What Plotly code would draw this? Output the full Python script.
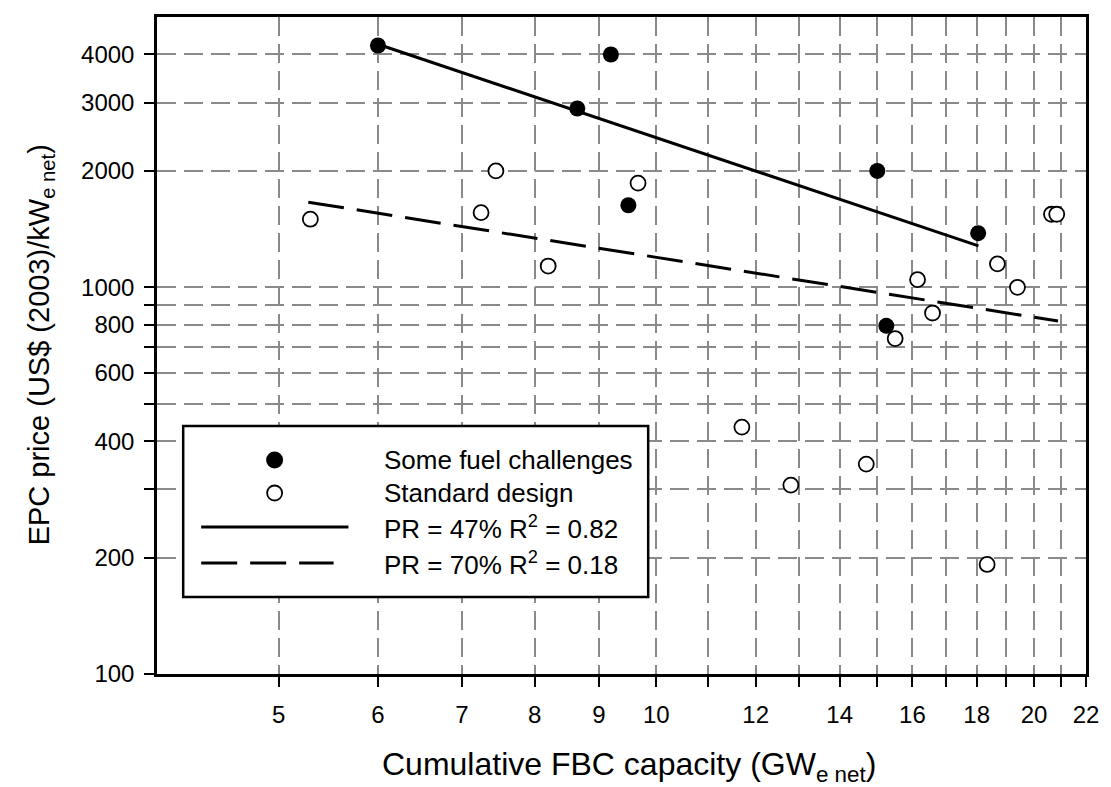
import plotly.graph_objects as go

# ---- data ----
fuel_x = [6.0, 8.65, 9.2, 9.5, 15.0, 18.05, 15.25]
fuel_y = [4220, 2900, 4000, 1630, 2000, 1380, 795]

std_x = [5.3, 7.25, 7.45, 8.2, 9.67, 11.7, 12.8, 14.7, 15.5, 16.15, 16.6,
         18.35, 18.7, 19.4, 20.65, 20.85]
std_y = [1500, 1560, 2000, 1135, 1860, 435, 308, 349, 737, 1047, 858,
         192, 1150, 1000, 1545, 1545]

# experience-curve fits (power law = straight line in log-log)
fit47_x = [6.0, 18.06]
fit47_y = [4250, 1280]
fit70_x = [5.28, 20.9]
fit70_y = [1660, 818]

x_major = [5, 6, 7, 8, 9, 10, 12, 14, 16, 18, 20, 22]
x_minor = [11, 13, 15, 17, 19, 21]
y_major = [100, 200, 400, 600, 800, 1000, 2000, 3000, 4000]
y_minor = [300, 500, 700, 900]

legend_names = ["Some fuel challenges", "Standard design",
                "PR = 47% R<sup>2</sup> = 0.82", "PR = 70% R<sup>2</sup> = 0.18"]

# ---- figure geometry (pixels) ----
W, H = 1111, 787
L, R, T, B = 157, 14, 17, 113
PW, PH = W - L - R, H - T - B
FONT = "Liberation Sans, Arial, sans-serif"
DASH = "36px,13px"
GRID_DASH = "19px,8px"
GRID_COLOR = "#8a8a8a"


def px(xp):
    return (xp - L) / PW


def py(yp):
    return (H - B - yp) / PH


fig = go.Figure()

fig.add_trace(go.Scatter(x=fit47_x, y=fit47_y, mode="lines",
                         line=dict(color="black", width=3), showlegend=False))
fig.add_trace(go.Scatter(x=fit70_x, y=fit70_y, mode="lines",
                         line=dict(color="black", width=3, dash=DASH),
                         showlegend=False))
fig.add_trace(go.Scatter(x=fuel_x, y=fuel_y, mode="markers",
                         marker=dict(color="black", size=16, line=dict(width=0)),
                         showlegend=False))
fig.add_trace(go.Scatter(x=std_x, y=std_y, mode="markers",
                         marker=dict(color="white", size=15,
                                     line=dict(color="black", width=1.8)),
                         showlegend=False))

axis_common = dict(
    showline=True, linecolor="black", linewidth=2.5, mirror=True,
    ticks="outside", ticklen=10, tickwidth=2, tickcolor="black",
    showgrid=True, gridcolor=GRID_COLOR, gridwidth=2, griddash=GRID_DASH,
    zeroline=False, tickfont=dict(family=FONT, size=24, color="black"),
    tickmode="array",
)


def minor_ticks(vals):
    return dict(tickmode="array", tickvals=vals, ticks="outside", ticklen=10,
                tickwidth=2, tickcolor="black", showgrid=True,
                gridcolor=GRID_COLOR, gridwidth=2, griddash=GRID_DASH)


fig.update_xaxes(type="log", range=[0.60206, 1.342423],
                 tickvals=x_major, ticktext=[str(v) for v in x_major],
                 ticklabelstandoff=7, minor=minor_ticks(x_minor), **axis_common)
fig.update_yaxes(type="log", range=[2, 3.69897],
                 tickvals=y_major, ticktext=[str(v) for v in y_major],
                 ticklabelstandoff=5, minor=minor_ticks(y_minor), **axis_common)

# ---- legend box drawn by hand ----
shapes = [
    dict(type="rect", xref="paper", yref="paper",
         x0=px(183.5), x1=px(654), y0=py(597), y1=py(426),
         line=dict(color="black", width=2.5), fillcolor="white", layer="above"),
    dict(type="circle", xref="paper", yref="paper", xsizemode="pixel",
         ysizemode="pixel", xanchor=px(276), yanchor=py(460),
         x0=-8.5, x1=8.5, y0=-8.5, y1=8.5,
         fillcolor="black", line=dict(color="black", width=0), layer="above"),
    dict(type="circle", xref="paper", yref="paper", xsizemode="pixel",
         ysizemode="pixel", xanchor=px(276), yanchor=py(493),
         x0=-7.5, x1=7.5, y0=-7.5, y1=7.5,
         fillcolor="white", line=dict(color="black", width=1.8), layer="above"),
    dict(type="line", xref="paper", yref="paper",
         x0=px(201.7), x1=px(350.7), y0=py(527), y1=py(527),
         line=dict(color="black", width=3), layer="above"),
    dict(type="line", xref="paper", yref="paper",
         x0=px(201.7), x1=px(335.7), y0=py(563), y1=py(563),
         line=dict(color="black", width=3, dash=DASH), layer="above"),
]

annotations = []
for name, yc in zip(legend_names, [460, 493, 527, 563]):
    annotations.append(dict(
        text=name, xref="paper", yref="paper", x=px(385), y=py(yc),
        xanchor="left", yanchor="middle", showarrow=False,
        font=dict(family=FONT, size=26, color="black")))

annotations.append(dict(
    text="Cumulative FBC capacity (GW<sub>e net</sub>)",
    xref="paper", yref="paper", x=px(635), y=py(766),
    xanchor="center", yanchor="middle", showarrow=False,
    font=dict(family=FONT, size=32, color="black")))
annotations.append(dict(
    text="EPC price (US$ (2003)/kW<sub>e net</sub>)",
    xref="paper", yref="paper", x=px(40), y=py(345),
    xanchor="center", yanchor="middle", showarrow=False, textangle=-90,
    font=dict(family=FONT, size=29, color="black")))

fig.update_layout(
    width=W, height=H,
    margin=dict(l=L, r=R, t=T, b=B, pad=0),
    paper_bgcolor="white", plot_bgcolor="white",
    shapes=shapes, annotations=annotations,
    showlegend=False,
)

fig.write_html("out.html")
